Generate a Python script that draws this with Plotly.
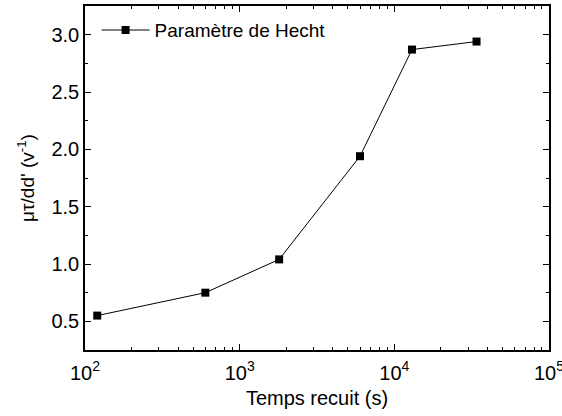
import plotly.graph_objects as go

temps = [120, 600, 1800, 6000, 13000, 34000]
hecht = [0.55, 0.75, 1.04, 1.94, 2.87, 2.94]
x_tickvals = [100, 1000, 10000, 100000]
x_ticktext = ["10<sup>2</sup>", "10<sup>3</sup>", "10<sup>4</sup>", "10<sup>5</sup>"]
x_minor = [m * d for d in (100, 1000, 10000) for m in range(2, 10)]

fig = go.Figure()
fig.add_trace(go.Scatter(
    x=temps, y=hecht, mode="lines+markers", name="Paramètre de Hecht",
    line=dict(color="black", width=1),
    marker=dict(symbol="square", size=8, color="black"),
))

font = dict(family="Liberation Sans, Arial, sans-serif", size=20, color="black")
fig.update_layout(
    width=562, height=416,
    margin=dict(l=85, r=13, t=6, b=66),
    paper_bgcolor="white", plot_bgcolor="white",
    font=font,
    showlegend=True,
    legend=dict(x=0.025, y=0.985, xanchor="left", yanchor="top",
                bgcolor="rgba(0,0,0,0)", font=dict(size=19), itemwidth=48),
)
fig.update_xaxes(
    type="log", range=[2, 5], automargin=False,
    tickvals=x_tickvals, ticktext=x_ticktext, ticklabelstandoff=4,
    ticklabeloverflow="allow",
    ticks="inside", ticklen=6, tickwidth=1, tickcolor="black",
    minor=dict(tickvals=x_minor, ticks="inside", ticklen=3, tickcolor="black"),
    showline=True, linecolor="black", linewidth=1.5, mirror="allticks",
    showgrid=False, zeroline=False,
    title=dict(text="Temps recuit (s)", font=dict(size=20), standoff=8),
)
fig.update_yaxes(
    range=[0.25, 3.25], tick0=0.5, dtick=0.5, tickformat=".1f", automargin=False,
    ticklabeloverflow="allow",
    ticks="inside", ticklen=6, tickwidth=1, tickcolor="black",
    minor=dict(dtick=0.25, tick0=0.25, ticks="inside", ticklen=3, tickcolor="black"),
    showline=True, linecolor="black", linewidth=1.5, mirror="allticks",
    showgrid=False, zeroline=False,
    title=dict(text="μτ/dd' (v<sup>-1</sup>)", font=dict(size=19), standoff=12),
)

fig.write_html("out.html", config={"displayModeBar": False},
               post_script="document.body.style.margin='0';")
